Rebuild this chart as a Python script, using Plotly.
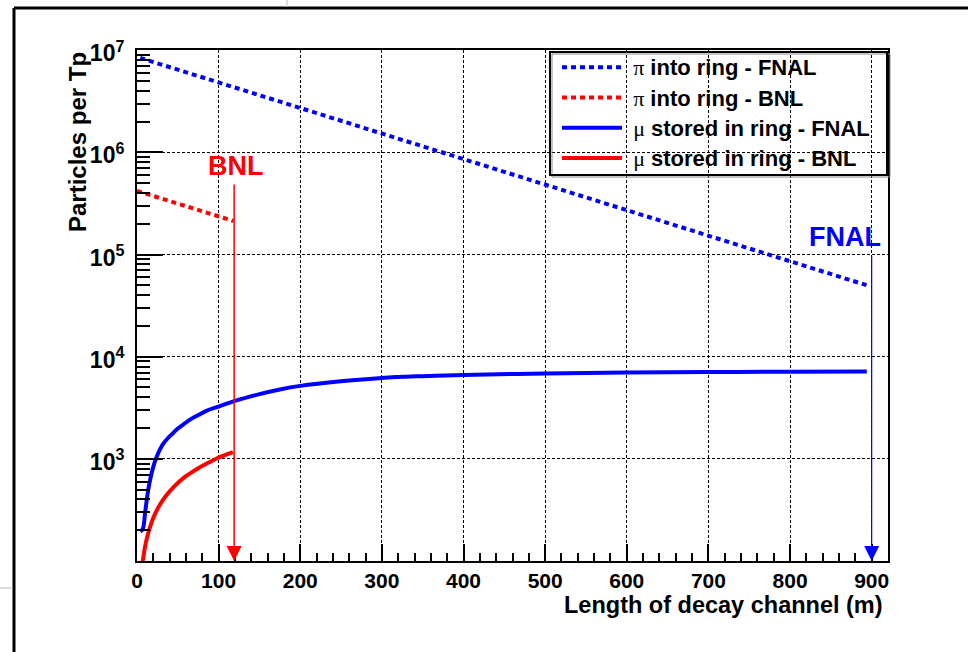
import numpy as np
import plotly.graph_objects as go

# ---------------- data ----------------
x_pi_fnal = [4, 100, 200, 300, 400, 500, 600, 700, 800, 894]
y_pi_fnal = [8.4e6, 4.83e6, 2.72e6, 1.53e6, 8.6e5, 4.84e5, 2.72e5, 1.53e5, 8.6e4, 5.0e4]

x_pi_bnl = [0, 60, 118]
y_pi_bnl = [4.2e5, 2.97e5, 2.13e5]

x_mu_fnal = [4, 7, 10, 12, 14, 16, 20, 24, 28, 32, 38, 44, 50, 57, 65, 75, 85, 100,
             120, 150, 175, 200, 250, 300, 350, 400, 500, 600, 700, 800, 894]
y_mu_fnal = [195, 205, 300, 400, 510, 620, 840, 1040, 1230, 1400, 1600, 1780, 1980,
             2180, 2420, 2680, 2950, 3250, 3690, 4300, 4780, 5180, 5750, 6200, 6450,
             6620, 6850, 7000, 7080, 7120, 7150]

x_mu_bnl = [3, 5, 7, 10, 14, 20, 28, 36, 46, 56, 66, 76, 88, 100, 110, 117.5]
y_mu_bnl = [40, 70, 98, 140, 190, 265, 355, 440, 540, 640, 730, 820, 920, 1030, 1105, 1165]

names = ["π into ring - FNAL", "π into ring - BNL",
         "μ stored in ring - FNAL", "μ stored in ring - BNL"]

x_ticks = [0, 100, 200, 300, 400, 500, 600, 700, 800, 900]
x_minor = [v for v in range(20, 920, 20) if v % 100 != 0]
y_ticks = [1e3, 1e4, 1e5, 1e6, 1e7]
y_ticktext = ["<b>10<sup>3</sup></b>", "<b>10<sup>4</sup></b>", "<b>10<sup>5</sup></b>",
              "<b>10<sup>6</sup></b>", "<b>10<sup>7</sup></b>"]
y_minor = [m * 10 ** e for e in range(2, 7) for m in range(2, 10)]

arrow_bnl = dict(x=119, ytop=5.0e5, text="BNL", tx=121, ty=7.3e5)
arrow_fnal = dict(x=900, ytop=1.0e5, text="FNAL", tx=867, ty=1.47e5)

x_range = [0, 920]
y_range = [2, 7.002]

# ---------------- figure ----------------
FONT = "Liberation Sans, Arial, sans-serif"
BLUE = "#0000ff"
RED = "#ff0000"


def leg(name):
    sym, rest = name[0], name[1:]
    return ("<span style=\"font-size:22px\">\u00a0<span style=\"font-family:'Liberation Serif';"
            "font-weight:normal\">" + sym + "</span><b>" + rest + "</b></span>")


fig = go.Figure()
fig.add_trace(go.Scatter(x=x_pi_fnal, y=y_pi_fnal, mode="lines", name=leg(names[0]),
                         legendgroup="a",
                         line=dict(color=BLUE, width=4, dash="5px,4px")))
fig.add_trace(go.Scatter(x=x_pi_bnl, y=y_pi_bnl, mode="lines", name=leg(names[1]),
                         legendgroup="b",
                         line=dict(color=RED, width=4, dash="5px,4px")))
fig.add_trace(go.Scatter(x=x_mu_fnal, y=y_mu_fnal, mode="lines", name=leg(names[2]),
                         legendgroup="c",
                         line=dict(color=BLUE, width=4, shape="spline", smoothing=1.0)))
fig.add_trace(go.Scatter(x=x_mu_bnl, y=y_mu_bnl, mode="lines", name=leg(names[3]),
                         legendgroup="d",
                         line=dict(color=RED, width=4, shape="spline", smoothing=1.0)))

annotations = []
for a, col, w, s in [(arrow_bnl, RED, 1.5, 2.0), (arrow_fnal, BLUE, 1.2, 2.5)]:
    annotations.append(dict(x=a["x"], y=y_range[0], xref="x", yref="y",
                            ax=a["x"], ay=np.log10(a["ytop"]), axref="x", ayref="y",
                            showarrow=True, arrowhead=2, arrowsize=s, arrowwidth=w,
                            arrowcolor=col, text="", standoff=0, startstandoff=0))
    annotations.append(dict(x=a["tx"], y=np.log10(a["ty"]), xref="x", yref="y",
                            text="<b>" + a["text"] + "</b>", showarrow=False,
                            font=dict(family=FONT, size=27, color=col),
                            xanchor="center", yanchor="middle"))

L, R, T, B = 137, 80, 50, 91
PW, PH = 968 - L - R, 652 - T - B


def px(xp):
    return (xp - L) / PW


def py(yp):
    return 1 - (yp - T) / PH


annotations.append(dict(x=px(885), y=py(605), xref="paper", yref="paper",
                        text="<b>Length of decay channel (m)</b>", showarrow=False,
                        xanchor="right", yanchor="middle",
                        font=dict(family=FONT, size=23.5, color="black")))
annotations.append(dict(x=px(77), y=1.0, xref="paper", yref="paper",
                        text="<b>Particles per Tp</b>", showarrow=False, textangle=-90,
                        xanchor="center", yanchor="top",
                        font=dict(family=FONT, size=24, color="black")))

shapes = [
    # outer canvas frame
    dict(type="line", xref="paper", yref="paper", x0=px(14), x1=px(14), y0=py(8), y1=py(660),
         line=dict(color="black", width=3)),
    dict(type="line", xref="paper", yref="paper", x0=px(14), x1=px(975), y0=py(8), y1=py(8),
         line=dict(color="black", width=3)),
    # thin gray artefacts
    dict(type="line", xref="paper", yref="paper", x0=px(0), x1=px(13), y0=py(588), y1=py(588),
         line=dict(color="#bbbbbb", width=1)),
    dict(type="line", xref="paper", yref="paper", x0=px(287), x1=px(287), y0=py(0), y1=py(7),
         line=dict(color="#bbbbbb", width=1)),
    # legend box (with a faint shadow edge)
    dict(type="rect", xref="paper", yref="paper", x0=px(552), x1=px(890), y0=py(54), y1=py(177),
         line=dict(color="#888888", width=1)),
    dict(type="rect", xref="paper", yref="paper", x0=px(550), x1=px(887), y0=py(52), y1=py(175),
         line=dict(color="black", width=2)),
]

fig.update_layout(
    width=968, height=652,
    margin=dict(l=L, r=R, t=T, b=B),
    paper_bgcolor="white", plot_bgcolor="white",
    font=dict(family=FONT, color="black"),
    showlegend=True,
    legend=dict(x=px(557), y=py(47), xanchor="left", yanchor="top",
                bgcolor="rgba(0,0,0,0)", borderwidth=0,
                font=dict(family=FONT, size=21, color="black"),
                itemwidth=60, tracegroupgap=0, traceorder="grouped"),
    annotations=annotations,
    shapes=shapes,
)

fig.update_xaxes(range=x_range, tickvals=x_ticks, ticktext=["<b>%d</b>" % v for v in x_ticks],
                 ticks="inside", ticklen=17, tickwidth=1.5, tickcolor="black",
                 showline=True, linewidth=2, linecolor="black", mirror=True,
                 showgrid=True, gridcolor="black", gridwidth=1, griddash="3px,2px",
                 zeroline=False, tickfont=dict(family=FONT, size=21),
                 minor=dict(tickmode="array", tickvals=x_minor, ticks="inside", ticklen=8,
                            tickwidth=1.5, tickcolor="black", showgrid=False))
fig.update_yaxes(type="log", range=y_range, tickvals=y_ticks, ticktext=y_ticktext,
                 ticks="inside", ticklen=26, tickwidth=1.5, tickcolor="black",
                 showline=True, linewidth=2, linecolor="black", mirror=True,
                 showgrid=True, gridcolor="black", gridwidth=1, griddash="3px,2px",
                 zeroline=False, tickfont=dict(family=FONT, size=23), ticklabelstandoff=6,
                 ticklabelshift=3,
                 minor=dict(tickmode="array", tickvals=y_minor, ticks="inside", ticklen=13,
                            tickwidth=1.5, tickcolor="black", showgrid=False))

fig.write_html("out.html")
